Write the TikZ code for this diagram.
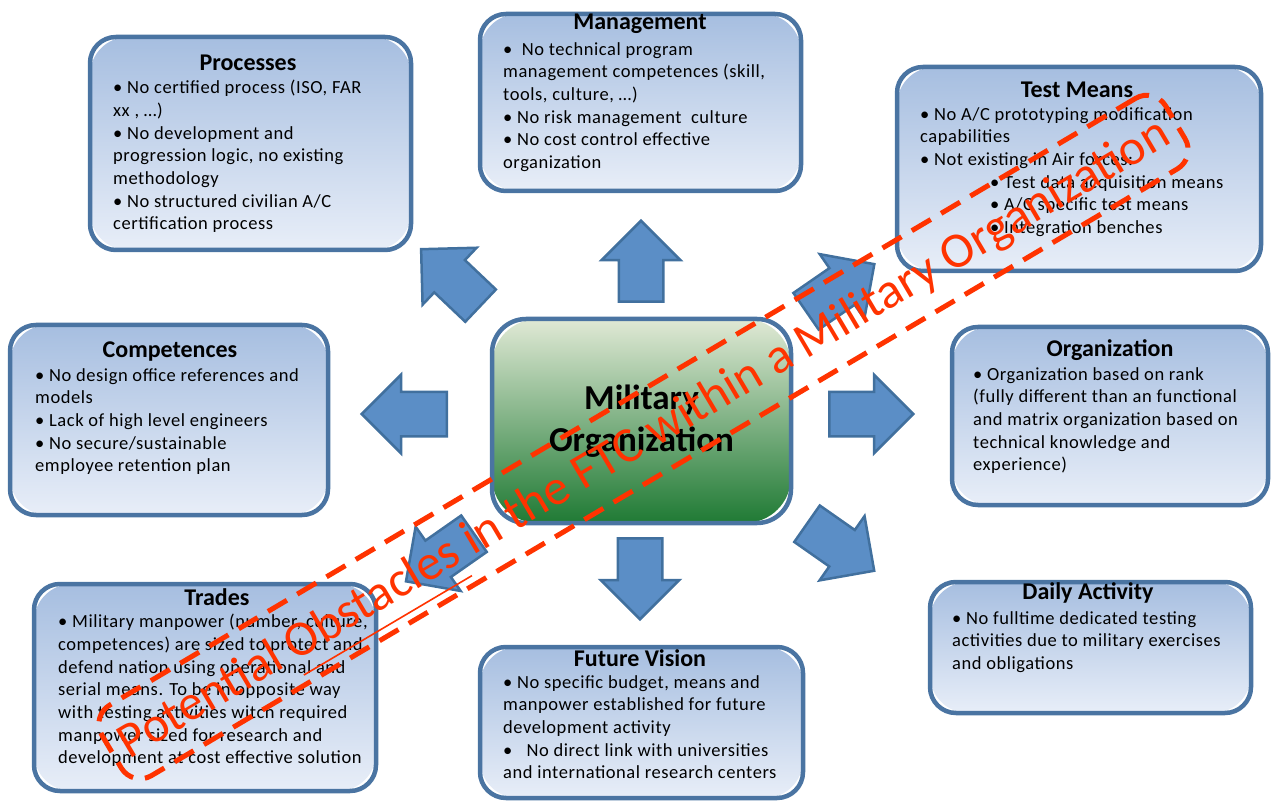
\documentclass[tikz,border=0pt]{standalone}
\usepackage{fontspec}
\setmainfont{Carlito}
\newfontfamily\spacedfont[LetterSpace=3]{Carlito}
\usetikzlibrary{shapes.arrows,positioning}

\definecolor{boxline}{HTML}{4A74A2}
\definecolor{boxtop}{HTML}{A6BEE0}
\definecolor{boxbot}{HTML}{E8EEF8}
\definecolor{arrfill}{HTML}{5B8EC6}
\definecolor{arrline}{HTML}{41709E}
\definecolor{miltop}{HTML}{E0E9D5}
\definecolor{milmid}{HTML}{A9C081}
\definecolor{milbot}{HTML}{1F7A34}
\definecolor{obstred}{HTML}{FF3300}

\newcommand{\redul}[1]{\setbox0\hbox{#1}\rlap{\raisebox{-17pt}{\rule{\wd0}{1.6pt}}}\box0\relax}
% box = gradient fill with wider corners, then the border on top
\newcommand{\issuebox}[4]{%
  \node[issuefill, minimum width=#3, minimum height=#4] at (#2) {};
  \node[issueedge, minimum width=#3, minimum height=#4] (#1) at (#2) {};}

\tikzset{
  issuefill/.style={rounded corners=38pt, top color=boxtop, bottom color=boxbot, inner sep=0pt},
  issueedge/.style={draw=boxline, line width=4.5pt, rounded corners=26pt, inner sep=0pt},
  milfill/.style={rounded corners=46pt, top color=miltop, middle color=milmid,
    bottom color=milbot, inner sep=0pt},
  milbox/.style={draw=boxline, line width=4.5pt, rounded corners=34pt,
    font=\fontsize{35}{42}\selectfont\bfseries, align=center},
  issuetitle/.style={font=\fontsize{24}{28}\selectfont\bfseries, inner sep=0pt},
  issuetext/.style={font=\spacedfont\fontsize{18.5}{22.7}\selectfont, align=left,
    inner sep=0pt, anchor=north west},
  blockarrow/.style={single arrow, draw=arrline, fill=arrfill, line width=2.5pt,
    single arrow head extend=17pt, inner xsep=0pt, inner ysep=21pt,
    minimum height=#1, anchor=tail},
}

\begin{document}
\begin{tikzpicture}[x=1pt,y=1pt]
    \useasboundingbox (0,0) rectangle (1272,-802);

    % arrows
    \node[blockarrow=81pt, rotate=90] (upar) at (641,-303) {};
    \node[blockarrow=81pt, rotate=-90] (downar) at (640,-537) {};
    \node[blockarrow=85pt, rotate=180] (leftar) at (448,-414) {};
    \node[blockarrow=84pt] (rightar) at (828,-414) {};
    \node[blockarrow=82pt, rotate=136.5] (ularr) at (481.5,-306.5) {};
    \node[blockarrow=83pt, rotate=34.6] (urarr) at (805,-312) {};
    \node[blockarrow=82pt, rotate=-35] (drarr) at (806,-523) {};
    \node[blockarrow=83pt, rotate=-145] (dlarr) at (475,-533) {};

    % centre
    \node[milfill, minimum width=299pt, minimum height=204pt] at (641.5,-421) {};
    \node[milbox, minimum width=299pt, minimum height=204pt] (mil) at (641.5,-421) {Military\\Organization};

    % Processes
    \issuebox{proc}{250.5,-143.5}{321pt}{213pt}
    \node[issuetitle] (proctitle) at (248,-63) {Processes};
    \node[issuetext] (proctext) at (113,-80) {• No certified process (ISO, FAR\\xx , …)\\• No development and\\progression logic, no existing\\methodology\\• No structured civilian A/C\\certification process};

    % Management
    \issuebox{mgmt}{640.5,-102.5}{321pt}{177pt}
    \node[issuetitle] (mgmttitle) at (640,-24) {Management};
    \node[issuetext] (mgmttext) at (503,-42) {•\ \ No technical program\\management competences (skill,\\tools, culture, …)\\• No risk management\ \ culture\\• No cost control effective\\organization};

    % Test Means
    \issuebox{test}{1079,-169}{364pt}{204pt}
    \node[issuetitle] (testtitle) at (1077,-90) {Test Means};
    \node[issuetext] (testtext) at (920,-107) {• No A/C prototyping modification\\capabilities\\• Not existing in Air forces:\\\hspace*{70pt}• Test data acquisition means\\\hspace*{70pt}• A/C specific test means\\\hspace*{70pt}• Integration benches};

    % Competences
    \issuebox{comp}{169,-420}{318pt}{190pt}
    \node[issuetitle] (comptitle) at (170,-352) {Competences};
    \node[issuetext] (comptext) at (35,-368) {• No design office references and\\models\\• Lack of high level engineers\\• No secure/sustainable\\employee retention plan};

    % Organization
    \issuebox{org}{1110,-416}{316pt}{178pt}
    \node[issuetitle] (orgtitle) at (1110,-350) {Organization};
    \node[issuetext] (orgtext) at (973,-367) {• Organization based on rank\\(fully different than an functional\\and matrix organization based on\\technical knowledge and\\experience)};

    % Trades
    \issuebox{trades}{205,-687.5}{342pt}{207pt}
    \node[issuetitle] (tradestitle) at (217,-597) {Trades};
    \node[issuetext] (tradestext) at (58,-614) {• Military manpower (number, culture,\\competences) are sized to protect and\\defend nation using operational and\\serial means. To be in opposite way\\with testing activities witch required\\manpower sized for research and\\development at cost effective solution};

    % Future Vision
    \issuebox{vision}{641.5,-722.5}{323pt}{151pt}
    \node[issuetitle] (visiontitle) at (640,-658) {Future Vision};
    \node[issuetext] (visiontext) at (503,-675) {• No specific budget, means and\\manpower established for future\\development activity\\•\ \ \ No direct link with universities\\and international research centers};

    % Daily Activity
    \issuebox{daily}{1090.5,-647.5}{321pt}{131pt}
    \node[issuetitle] (dailytitle) at (1088,-593) {Daily Activity};
    \node[issuetext] (dailytext) at (952,-611) {• No fulltime dedicated testing\\activities due to military exercises\\and obligations};

    % obstacle band
    \node[draw=obstred, line width=5pt, dash pattern=on 22pt off 12pt, rounded corners=22pt,
      minimum width=1236pt, minimum height=82pt, rotate=30.6] (band) at (643.5,-437) {};
    \node[text=obstred, font=\fontsize{50}{58}\selectfont, rotate=30.6, inner sep=0pt] (obst) at (647,-443)
      {Potential \redul{Obstacles} in the FTC within a Military Organization};
\end{tikzpicture}
\end{document}
